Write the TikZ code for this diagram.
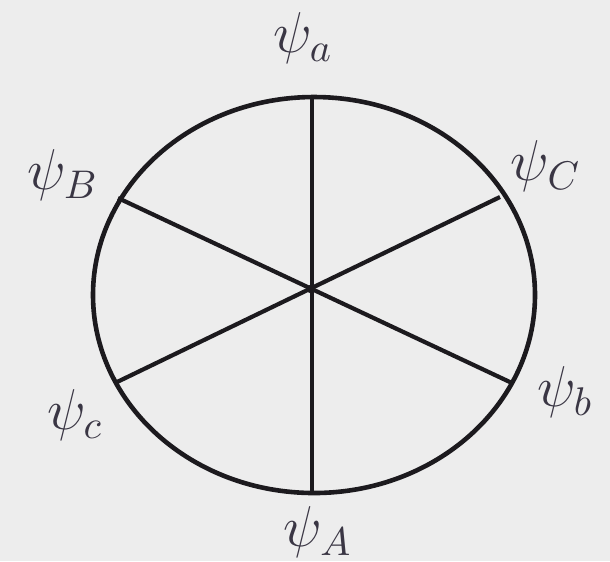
\documentclass[tikz,border=0pt]{standalone}
\usepackage{xcolor}
\definecolor{bg}{HTML}{EDEDED}
\definecolor{ink}{HTML}{1C1A1E}
\definecolor{txt}{HTML}{3A3644}
\begin{document}
\begin{tikzpicture}[x=0.25pt,y=-0.25pt,
  wire/.style={draw=ink,line width=1.05pt},
  lbl/.style={text=txt,inner sep=0pt,font=\fontsize{14}{16}\selectfont}]
\fill[bg] (0,0) rectangle (610,561);
\useasboundingbox (0,0) rectangle (610,561);
\coordinate (O) at (314,295);
\coordinate (pa) at (312,97);
\coordinate (pA) at (312,493);
\coordinate (pB) at (118,198);
\coordinate (pb) at (512,383);
\coordinate (pC) at (500,197);
\coordinate (pc) at (115,383);
\coordinate (X) at (311,289);
\draw[wire,line width=1.15pt] (O) ellipse [x radius=55.25pt, y radius=49.5pt];
\draw[wire] (pa) -- (pA);
\draw[wire] (pB) -- (pb);
\draw[wire] (pC) -- (pc);
\fill[ink] (X) circle [radius=1.1pt];
\node[lbl] (la) at (303,38) {$\psi_a$};
\node[lbl] (lC) at (546,166) {$\psi_C$};
\node[lbl] (lb) at (565,392) {$\psi_b$};
\node[lbl] (lB) at (63,175) {$\psi_B$};
\node[lbl] (lc) at (75,415) {$\psi_c$};
\node[lbl] (lA) at (318,532) {$\psi_A$};
\end{tikzpicture}
\end{document}
